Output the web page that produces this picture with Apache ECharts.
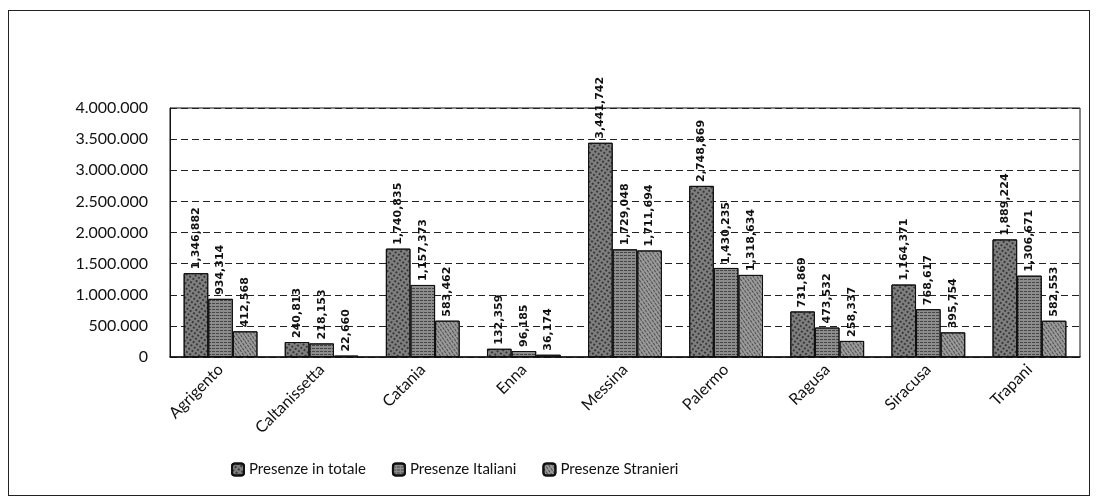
<!DOCTYPE html>
<html>
<head>
<meta charset="utf-8">
<script src="https://cdn.jsdelivr.net/npm/echarts@6/dist/echarts.min.js"></script>
<style>
  html, body { margin: 0; padding: 0; background: #fff; }
  #frame { position: absolute; left: 8px; top: 10px; width: 1080px; height: 484px; border: 1px solid #222; }
  #main { position: absolute; left: 0; top: 0; width: 1098px; height: 500px; }
</style>
</head>
<body>
<div id="frame"></div>
<div id="main"></div>
<script>
// province siciliane
var provinces = ['Agrigento', 'Caltanissetta', 'Catania', 'Enna', 'Messina', 'Palermo', 'Ragusa', 'Siracusa', 'Trapani'];
var totale = [1346882, 240813, 1740835, 132359, 3441742, 2748869, 731869, 1164371, 1889224];
var italiani = [934314, 218153, 1157373, 96185, 1729048, 1430235, 473532, 768617, 1306671];
var stranieri = [412568, 22660, 583462, 36174, 1711694, 1318634, 258337, 395754, 582553];
var seriesNames = ['Presenze in totale', 'Presenze Italiani', 'Presenze Stranieri'];

function dotted(n) {
  return String(n).replace(/\B(?=(\d{3})+(?!\d))/g, '.');
}
function commas(n) {
  return String(n).replace(/\B(?=(\d{3})+(?!\d))/g, ',');
}

var fills = ['#7f7f7f', '#8c8c8c', '#9a9a9a'];
var decals = [
  { symbol: 'rect', symbolSize: 1, color: 'rgba(0,0,0,0.55)', dashArrayX: [2, 2], dashArrayY: [2, 2], rotation: 0.6 },
  { symbol: 'rect', symbolSize: 1, color: 'rgba(0,0,0,0.5)', dashArrayX: [3, 1], dashArrayY: [1, 2], rotation: 0 },
  { symbol: 'rect', symbolSize: 1, color: 'rgba(0,0,0,0.5)', dashArrayX: [1, 2], dashArrayY: [3, 1], rotation: -0.6 }
];

function makeSeries(i, data) {
  return {
    name: seriesNames[i],
    type: 'bar',
    data: data,
    barGap: '0%',
    barCategoryGap: '27%',
    itemStyle: { color: fills[i], borderColor: '#111', borderWidth: 1, decal: decals[i] },
    label: {
      show: true,
      position: 'top',
      rotate: 90,
      align: 'left',
      verticalAlign: 'middle',
      distance: 4,
      fontFamily: 'DejaVu Sans',
      fontSize: 11,
      fontWeight: 'bold',
      color: '#111',
      formatter: function (p) { return commas(p.value); }
    }
  };
}

var myChart = echarts.init(document.getElementById('main'));
myChart.setOption({
  animation: false,
  aria: { enabled: true, decal: { show: true } },
  textStyle: { fontFamily: 'Lato' },
  grid: { left: 170, right: 18, top: 108, bottom: 143, show: true, borderColor: '#111', borderWidth: 1 },
  legend: {
    bottom: 18,
    left: 226,
    itemWidth: 12,
    itemHeight: 12,
    itemGap: 26,
    textStyle: { fontFamily: 'Lato', fontSize: 15, color: '#111' },
    data: seriesNames
  },
  xAxis: {
    type: 'category',
    data: provinces,
    axisLine: { lineStyle: { color: '#111', width: 1.5 } },
    axisTick: { show: false },
    axisLabel: { rotate: 45, fontSize: 16, color: '#111', margin: 10 }
  },
  yAxis: {
    type: 'value',
    min: 0,
    max: 4000000,
    interval: 500000,
    axisLine: { show: true, lineStyle: { color: '#111' } },
    axisTick: { show: false },
    axisLabel: { fontSize: 16, color: '#111', margin: 22, formatter: function (v) { return dotted(v); } },
    splitLine: { lineStyle: { color: '#222', type: [7, 4] } }
  },
  series: [
    makeSeries(0, totale),
    makeSeries(1, italiani),
    makeSeries(2, stranieri)
  ]
});
</script>
</body>
</html>
